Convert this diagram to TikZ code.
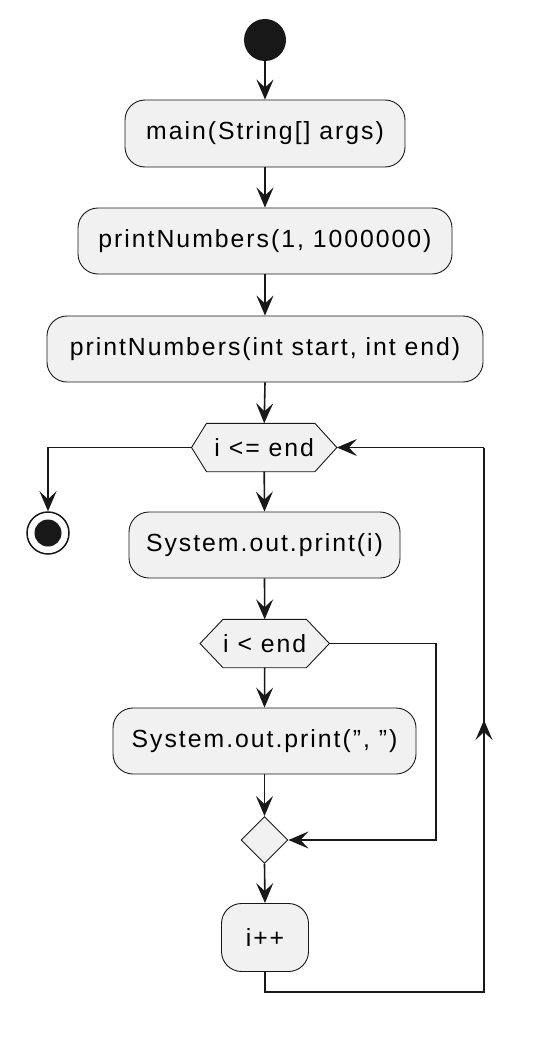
\documentclass[tikz,border=0pt]{standalone}
\usepackage{fontspec}
\setmainfont{Liberation Sans}[LetterSpace=8,Ligatures=NoCommon]
\usetikzlibrary{arrows.meta,shapes.geometric,calc}
\definecolor{boxfill}{HTML}{F1F1F1}
\definecolor{ink}{HTML}{181818}
\tikzset{
  act/.style={draw=ink, line width=0.9pt, fill=boxfill, rounded corners=20pt, inner sep=0pt, font=\fontsize{24.8}{30}\selectfont, text=black},
  hexlbl/.style={draw=none, inner sep=0pt, minimum height=48pt, font=\fontsize{24.8}{30}\selectfont, text=black},
  hexshape/.style={draw=ink, line width=0.9pt, fill=boxfill},
  merge/.style={diamond, draw=ink, line width=0.9pt, fill=boxfill, inner sep=0pt, minimum width=47pt, minimum height=47pt},
  flow/.style={draw=ink, line width=1.6pt, -{Stealth[length=20pt,width=17pt,inset=8pt]}},
  plain/.style={draw=ink, line width=1.6pt},
}
\begin{document}
\begin{tikzpicture}[x=1pt,y=-1pt]
\useasboundingbox (0,0) rectangle (536,1038);
% start
\node[circle, fill=ink, minimum size=42pt, inner sep=0pt] (start) at (265,40) {};
\node[act, minimum width=280pt, minimum height=67pt] (main) at (265,133.5) {main(String[] args)};
\node[act, minimum width=374pt, minimum height=66pt] (call) at (265,241) {printNumbers(1, 1000000)};
\node[act, minimum width=436pt, minimum height=66pt] (def) at (265,349) {printNumbers(int start, int end)};
% hexagon 1
\node[hexlbl, minimum width=145pt] (h1) at (264.2,447.5) {};
\path[hexshape] (h1.west) -- ($(h1.north west)+(15,0)$) -- ($(h1.north east)+(-22,0)$) -- (h1.east) -- ($(h1.south east)+(-22,0)$) -- ($(h1.south west)+(15,0)$) -- cycle;
\node[hexlbl] at (h1) {i <= end};
% end
\node[circle, draw=ink, line width=1.5pt, fill=white, minimum size=42pt, inner sep=0pt] (stop) at (48,533) {};
\node[circle, fill=ink, minimum size=27pt, inner sep=0pt] (stopin) at (stop) {};
\node[act, minimum width=271pt, minimum height=66pt] (p1) at (264.5,545) {System.out.print(i)};
% hexagon 2
\node[hexlbl, minimum width=129pt] (h2) at (264.7,643.5) {};
\path[hexshape] (h2.west) -- ($(h2.north west)+(23,0)$) -- ($(h2.north east)+(-23,0)$) -- (h2.east) -- ($(h2.south east)+(-23,0)$) -- ($(h2.south west)+(23,0)$) -- cycle;
\node[hexlbl] at (h2) {i < end};
\node[act, minimum width=303pt, minimum height=66pt] (p2) at (264.5,741) {System.out.print({\char"0022}, {\char"0022})};
\node[merge] (m) at (264.5,840) {};
\node[act, minimum width=87pt, minimum height=68pt] (inc) at (265,937.5) {i\kern2pt+\kern2pt+};
\coordinate (r1) at (436,643.5);
\coordinate (r2) at (436,840);
\coordinate (l1) at (265,992);
\coordinate (l2) at (484,992);
\coordinate (l3) at (484,447.5);
\coordinate (lmid) at (484,720);
\coordinate (e1) at (48,447.5);
% connectors
\draw[flow] (start) -- (main);
\draw[flow] (main) -- (call);
\draw[flow] (call) -- (def);
\draw[flow] (def.south) -- (h1.north);
\draw[flow] (h1.west) -- (e1) -- (stop.north);
\draw[flow] (h1.south) -- (p1.north);
\draw[flow] (p1.south) -- (h2.north);
\draw[flow] (h2.south) -- (p2.north);
\draw[flow] (p2.south) -- (m.north);
\draw[flow] (h2.east) -- (r1) -- (r2) -- (m.east);
\draw[flow] (m.south) -- (inc.north);
\draw[plain] (inc.south) -- (l1) -- (l2) -- (l3);
\draw[flow] (l2) -- (lmid);
\draw[flow] (l3) -- (h1.east);
\end{tikzpicture}
\end{document}
